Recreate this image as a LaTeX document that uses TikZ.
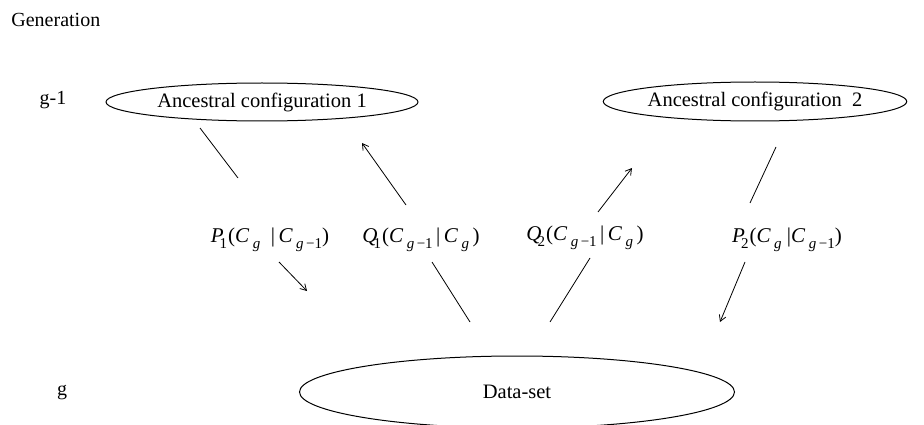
\documentclass[tikz,border=0pt]{standalone}
\usepackage{fontspec}
\setmainfont{Liberation Serif}
\usetikzlibrary{shapes.geometric,arrows.meta}
\newcommand{\sbx}[1]{\raisebox{-0.6ex}{\fontsize{15}{15}\selectfont #1}}
\newcommand{\ig}{\textit{g}}
\begin{document}
\begin{tikzpicture}[x=1pt,y=-1pt,line width=0.8pt,
  txt/.style={font=\fontsize{20}{23}\selectfont, inner sep=0pt},
  ell/.style={draw, ellipse, inner sep=0pt, line width=1pt, font=\fontsize{20.5}{23}\selectfont},
  lbl/.style={font=\fontsize{21}{24}\selectfont, inner sep=0pt},
  arr/.style={-{Straight Barb[length=6pt,width=7pt]}}]
\useasboundingbox (0,0) rectangle (924,425);
\fill[white] (0,0) rectangle (924,425);
% texts
\node[txt, anchor=west] (gen) at (11,20) {Generation};
\node[txt] (gm1) at (53,100) {g-1};
\node[txt] (g) at (62,393) {g};
% ellipses
\node[ell, minimum width=312pt, minimum height=38pt] (e1) at (262,102) {Ancestral configuration 1};
\node[ell, minimum width=300pt, minimum height=39pt] (e2) at (755,101.5) {Ancestral configuration\ \ 2};
\node[ell, minimum width=435pt, minimum height=72pt] (ds) at (517,392) {Data-set};
% labels
\node[lbl] (lp1) at (270,240) {\textit{P}\kern-4pt\sbx{1}\kern1pt(\textit{C}\,\sbx{\ig}\ \ |\,\textit{C}\,\sbx{\ig\,−1})};
\node[lbl] (lq1) at (421,240) {\textit{Q}\kern-4pt\sbx{1}\kern1pt(\textit{C}\,\sbx{\ig\,−1}\,|\,\textit{C}\,\sbx{\ig}\,)};
\node[lbl] (lq2) at (585,238) {\textit{Q}\kern-4pt\sbx{2}\kern1pt(\textit{C}\,\sbx{\ig\,−1}\,|\,\textit{C}\,\sbx{\ig}\,)};
\node[lbl] (lp2) at (787,240) {\textit{P}\kern-4pt\sbx{2}\kern1pt(\textit{C}\,\sbx{\ig}\ |\textit{C}\,\sbx{\ig\,−1})};
% connector end points
\coordinate (p1a) at (200,128);
\coordinate (p1b) at (238,178);
\coordinate (p1c) at (279,262);
\coordinate (p1d) at (307,291);
\coordinate (q1a) at (470,322);
\coordinate (q1b) at (432,262);
\coordinate (q1c) at (406,205);
\coordinate (q1d) at (362,143);
\coordinate (q2a) at (550,322);
\coordinate (q2b) at (590,258);
\coordinate (q2c) at (598,212);
\coordinate (q2d) at (632,168);
\coordinate (p2a) at (776,147);
\coordinate (p2b) at (750,203);
\coordinate (p2c) at (745,262);
\coordinate (p2d) at (720,322);
% connectors
\draw (p1a) -- (p1b);
\draw[arr] (p1c) -- (p1d);
\draw (q1a) -- (q1b);
\draw[arr] (q1c) -- (q1d);
\draw (q2a) -- (q2b);
\draw[arr] (q2c) -- (q2d);
\draw (p2a) -- (p2b);
\draw[arr] (p2c) -- (p2d);
\end{tikzpicture}
\end{document}
